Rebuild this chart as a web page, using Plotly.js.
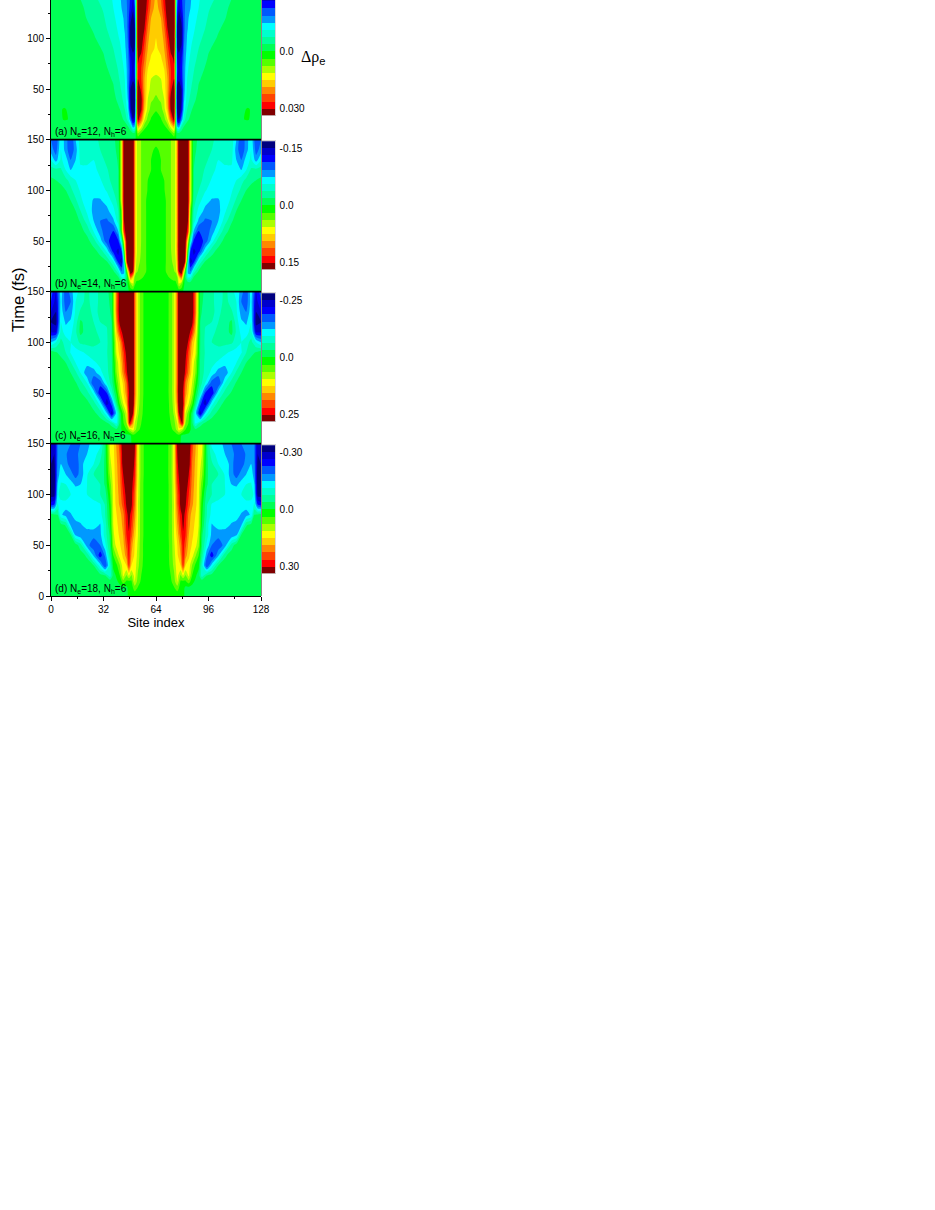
<!DOCTYPE html>
<html><head><meta charset="utf-8">
<script src="https://cdn.plot.ly/plotly-3.0.1.min.js"></script>
<style>html,body{margin:0;padding:0;background:#fff}</style></head>
<body><div id="chart" style="width:935px;height:1210px"></div>
<script>
// Colour of each contour band, top of the colour bar (most negative) to bottom.
const bandColors=['#00007f','#0000cc','#0000ff','#0059ff','#0099ff','#00ffff','#00ffcc','#00ff99','#00ff55','#00ff00','#55ff00','#aaff00','#ffff00','#ffcc00','#ff8800','#ff4400','#ff0000','#800000'];
const panelLabels=['(a) N<sub>e</sub>=12, N<sub>h</sub>=6','(b) N<sub>e</sub>=14, N<sub>h</sub>=6','(c) N<sub>e</sub>=16, N<sub>h</sub>=6','(d) N<sub>e</sub>=18, N<sub>h</sub>=6'];
const bandStep=[0.00375,0.01875,0.03125,0.0375];      // Δρ per colour band
const barTicks=[[0,0.03],[-0.15,0,0.15],[-0.25,0,0.25],[-0.30,0,0.30]];
const barTickText=[['0.0','0.030'],['-0.15','0.0','0.15'],['-0.25','0.0','0.25'],['-0.30','0.0','0.30']];
const siteTicks=[0,32,64,96,128], siteMinor=[16,48,80,112];
const timeTicks=[0,50,100,150], timeMinor=[25,75,125];

// Left half of each panel in units of one colour band; each panel is mirror symmetric about site 64.
const sitesA=[0,8,14,20,26,32,38,42,45,47,48.5,50,51,52,53,55,57,59,61,64];
const timesA=[0,6,12,20,30,40,50,60,70,80,90,100,110,120,130,140];
const bandsA=[
[-.3,-.3,-.3,-.3,-.3,-.3,-.3,-.3,-.3,-.3,-.3,-.3,-.3,.2,.3,.3,.3,.3,.3,.3],
[-.3,-.3,-.3,-.3,-.3,-.3,-.3,-.3,-.3,-.4,-.5,-.7,-.6,.3,1.8,.8,.5,.4,.4,.4],
[-.3,-.3,-.3,-.3,-.3,-.3,-.3,-.3,-.5,-.8,-1.6,-4,-3.5,.3,4.5,3,1.2,.7,.5,.5],
[-.3,.03,-.05,-.3,-.3,-.3,-.4,-.6,-1.2,-2.5,-5,-8,-7,-.5,8.5,6,3,1.6,.9,.6],
[-.3,.05,-.2,-.3,-.3,-.3,-.5,-1,-2,-3.6,-7.5,-9.5,-8.5,-1,9.5,8.2,4.5,2.6,1.6,1.1],
[-.3,-.3,-.3,-.3,-.3,-.4,-.7,-1.4,-2.5,-4.2,-8,-10,-9.3,-1,10,8.5,5,3,2.2,1.8],
[-.3,-.3,-.3,-.3,-.3,-.5,-.9,-1.8,-2.8,-4.5,-8,-9.6,-8.8,-1,9.5,7.5,5,3.4,2.7,2.3],
[-.3,-.3,-.3,-.3,-.3,-.6,-1.1,-2.1,-3,-4.6,-6.8,-7.6,-7,-.8,8,7,5,3.6,3,2.8],
[-.3,-.3,-.3,-.3,-.4,-.7,-1.4,-2.3,-3.2,-4.6,-6.5,-7.5,-6.5,-.8,7.8,7,5.4,4,3.5,3.3],
[-.3,-.3,-.3,-.3,-.5,-.9,-1.7,-2.6,-3.4,-4.8,-6.8,-7.6,-7,-.8,8.2,7.5,6,4.4,3.9,3.7],
[-.3,-.3,-.3,-.4,-.7,-1.1,-2,-2.8,-3.7,-5,-7.8,-8.3,-8,-.8,9.2,8.4,6.5,5,4.2,3.9],
[-.3,-.3,-.3,-.5,-.9,-1.4,-2.3,-3.1,-3.9,-5.2,-8.5,-9.8,-8.6,-.8,9.8,9,7.2,5.3,4.4,4],
[-.3,-.3,-.4,-.7,-1.1,-1.7,-2.6,-3.3,-4.1,-5.3,-8.5,-9.8,-8.4,-.8,10,9.6,8,5.9,4.6,4.1],
[-.3,-.3,-.5,-.9,-1.3,-1.9,-2.8,-3.5,-4.2,-5.3,-7.5,-8.8,-7.2,-.8,10,10,8.6,6.5,5,4.3],
[-.3,-.3,-.6,-1,-1.5,-2.1,-3,-3.8,-4.4,-5.3,-6.5,-7.6,-6,-.8,10,10.5,9,7.2,5.6,4.5],
[-.3,-.4,-.7,-1.2,-1.8,-2.4,-3.1,-3.9,-4.5,-5.4,-6.2,-7,-5,-.8,10,10.5,9.2,7.6,6,4.7]];

const sitesB=[0,3,6,9,12,15,18,22,26,30,34,38,41,43,44.5,46.5,48.5,50,51,52,53.5,56,58,61,64];
const timesB=[0,8,14,20,30,40,50,60,70,80,90,100,110,120,130,140,150];
const bandsB=[
[-.3,-.3,-.3,-.3,-.3,-.3,-.3,-.3,-.3,-.3,-.3,-.3,-.3,-.3,-.3,-.3,.3,.3,.3,.3,.3,.3,.3,.3,.3],
[-.3,-.3,-.3,-.3,-.3,-.3,-.3,-.3,-.3,-.3,-.3,-.3,-.3,-.3,-.3,-.2,2,3,1.2,.8,.7,.6,.5,.4,.4],
[-.3,-.3,-.3,-.3,-.3,-.3,-.3,-.3,-.3,-.3,-.3,-.4,-.8,-2.8,-3,-.3,6,4,2,1.3,1.3,1,.7,.5,.5],
[-.3,-.3,-.3,-.3,-.3,-.3,-.3,-.3,-.3,-.3,-.4,-.8,-2.5,-5,-4.5,2,9.5,8,4,2.2,1.8,1.3,1,.5,.5],
[-.3,-.3,-.3,-.3,-.3,-.3,-.3,-.3,-.4,-.6,-1,-3,-6.5,-7.6,-3,9,11,9,5,3,2.2,1.5,1,.5,.5],
[-.3,-.3,-.3,-.3,-.3,-.3,-.3,-.4,-.7,-1.3,-3.2,-6.5,-7.3,-6,0,10,11,9.3,5.5,3.2,2.4,1.6,1,.5,.5],
[-.3,-.3,-.3,-.3,-.3,-.3,-.4,-.7,-1.5,-3.5,-5.7,-6.6,-6.2,-2.5,3,10,11,9.3,5.5,3.2,2.4,1.7,1,.5,.5],
[-.3,-.3,-.3,-.3,-.3,-.4,-.7,-1.3,-3.1,-4.6,-5.8,-6,-4,1,7,10,11,9.3,5.5,3.2,2.4,1.7,1,.5,.5],
[-.3,-.3,-.3,-.3,-.4,-.7,-1.1,-2.5,-4,-5,-5.2,-4.2,-2.5,1,8,10,11,9.3,5.5,3.2,2.4,1.7,1,.5,.5],
[-.3,-.3,-.3,-.4,-.7,-1,-2,-3.2,-4.3,-4.6,-4.3,-3.3,-2,1.5,8.5,10,11,9.3,5.5,3.2,2.4,1.7,1,.5,.5],
[-.3,-.3,-.4,-.7,-1,-1.8,-2.8,-3.5,-4.1,-4.1,-3.6,-2.6,-1.6,3,8.8,10,11,9.3,5.5,3.2,2.4,1.7,1,.5,.5],
[-.3,-.5,-.7,-1,-1.7,-2.6,-3.1,-3.4,-3.6,-3.5,-2.9,-2,-1.2,3,8.8,10,11,9.3,5.5,3.2,2.4,1.7,1.1,.7,.5],
[-.8,-1,-1.2,-1.7,-2.4,-3,-3.3,-3.5,-3.5,-3.1,-2.4,-1.6,-1,3,9,10,11,9.3,5.5,3.2,2.4,1.7,1.1,.8,.6],
[-1.5,-1.6,-1.8,-3,-4,-3.3,-3.2,-3.5,-3.3,-2.7,-2.1,-1.5,-1,3,9,10,11,9.3,5.5,3.2,2.4,1.7,1.2,1,.7],
[-3,-4.5,-2.8,-3.5,-5,-4,-2.8,-2.5,-3,-2.3,-1.8,-1.4,-.9,3,9,10,11,9.3,5.5,3.2,2.4,1.7,1.3,1,.8],
[-4.5,-5.5,-3,-4.5,-5.8,-4.5,-2.5,-2.7,-2.4,-2,-1.6,-1.2,-.8,3,9,10,11,9.3,5.5,3.2,2.4,1.7,1.3,1.1,.9],
[-5,-6,-3.2,-4.5,-6,-4,-2.4,-3,-2.2,-1.9,-1.5,-1.1,-.8,3,9,10,11,9.3,5.5,3.2,2.4,1.7,1.3,1.2,1.2]];

const sitesC=[0,3,6,9,12,15,18,22,26,30,34,37,40,42,44,46,48,50,51,53,55,58,61,64];
const timesC=timesB;
const bandsC=[
[-.3,-.3,-.3,-.3,-.3,-.3,-.3,-.3,-.3,-.3,-.3,-.3,-.3,-.3,-.3,-.3,-.3,.3,.3,.3,.3,.3,.3,.3],
[-.3,-.3,-.3,-.3,-.3,-.3,-.3,-.3,-.3,-.3,-.3,-.3,-.3,-.3,-.3,-.3,-.3,.6,.6,.5,.4,.4,.4,.4],
[-.3,-.3,-.3,-.3,-.3,-.3,-.3,-.3,-.3,-.3,-.3,-.4,-.8,-.4,.5,1,2.5,3.5,2.5,1.2,.8,.5,.5,.5],
[-.3,-.3,-.3,-.3,-.3,-.3,-.3,-.3,-.3,-.4,-.7,-1.5,-3,-.6,.8,2,8,5,3,1.6,1,.5,.5,.5],
[-.3,-.3,-.3,-.3,-.3,-.3,-.3,-.4,-.7,-1.5,-3.8,-7.5,-3.5,-.5,1.3,3,8.8,8,4.5,2.2,1.2,.5,.5,.5],
[-.3,-.3,-.3,-.3,-.3,-.3,-.4,-.7,-1.6,-3.5,-7.8,-5.5,-1,1.3,3,4.5,9.5,9.5,5.5,2.6,1.3,.5,.5,.5],
[-.3,-.3,-.3,-.3,-.3,-.5,-.9,-1.6,-3.3,-7,-6,-2.5,.2,2.5,3.8,5.5,8.7,10,6,2.8,1.4,.5,.5,.5],
[-.3,-.3,-.3,-.3,-.5,-.9,-1.6,-3,-6,-5.5,-3,-1.5,1.2,3,4.2,6,9.5,10,6,2.8,1.4,.5,.5,.5],
[-.3,-.3,-.3,-.5,-1,-1.8,-3,-4.8,-4.5,-3.3,-2.3,-1.3,2,3.5,5.5,7.5,10,10,6,2.8,1.4,.5,.5,.5],
[-.3,-.4,-.6,-1,-1.9,-3,-3.7,-3.6,-3.2,-2.7,-2.2,-1.2,2.4,3.8,6,8,11,10,6,2.8,1.4,.5,.5,.5],
[-.5,-.9,-1.3,-2,-3.1,-3.4,-3.2,-2.8,-2.3,-2,-2.1,-1.1,3.2,4.4,6.5,8.5,11,10,6,2.8,1.4,.5,.5,.5],
[-4,-3,-1.7,-2.4,-3,-2.5,-1.8,-1.7,-1.8,-2,-2.2,-1,3.5,5,7.5,9.5,11,10,6,2.8,1.4,.5,.5,.5],
[-7,-7,-2.5,-3.5,-3.3,-2.2,-.7,-1.5,-1.9,-2.1,-2.1,-1,4.5,7,8.6,10,11,10,6,2.8,1.4,.5,.5,.5],
[-8,-8.5,-3,-4.2,-3.8,-2.5,-.8,-1.5,-2,-2,-1.9,-1,5.5,8.5,9.8,11,11,10,6,2.8,1.4,.5,.5,.5],
[-7,-8,-3.4,-5,-4.5,-2.8,-1.8,-1.5,-2.3,-1.8,-1.5,-.8,6,9,10.5,11,11,10,6,2.8,1.4,.5,.5,.5],
[-6,-7.5,-3.6,-5.6,-5,-3,-2.5,-1.5,-2.8,-1.6,-1.3,-.7,6,9,11,11,11,10,6,2.8,1.4,.5,.5,.5],
[-5.5,-7,-3.3,-5.8,-4.5,-3.2,-2.8,-1.5,-3,-1.5,-1.2,-.6,6,9,11,11,11,10,6,2.8,1.4,.5,.5,.5]];

const sitesD=[0,2,4,6,9,12,15,18,22,26,30,33,36,38,40,42,44,46,47.5,49,51,53,55,58,64];
const timesD=timesB;
const bandsD=[
[-.3,-.3,-.3,-.3,-.3,-.3,-.3,-.3,-.3,-.3,-.3,-.3,-.3,-.3,-.3,-.3,-.3,-.3,.3,.3,.3,.3,.3,.3,.3],
[-.3,-.3,-.3,-.3,-.3,-.3,-.3,-.3,-.3,-.3,-.3,-.3,-.3,-.3,-.3,-.3,-.3,-.3,.4,.5,1.5,.9,.6,.5,.5],
[-.3,-.3,-.3,-.3,-.3,-.3,-.3,-.3,-.3,-.3,-.3,-.3,-.3,-.3,-.2,.3,1.5,.8,.6,.8,3,1.5,.8,.5,.5],
[-.3,-.3,-.3,-.3,-.3,-.3,-.3,-.3,-.3,-.3,-.5,-.9,-2.5,-.5,.2,1,3.2,1.8,3,1.8,3.4,1.8,1,.5,.5],
[-.3,-.3,-.3,-.3,-.3,-.3,-.3,-.3,-.5,-1,-3.5,-6,-2.5,.3,.8,2,3.6,4,7,4,3.6,2.3,1.2,.5,.5],
[-.3,-.3,-.3,-.3,-.3,-.3,-.3,-.5,-1.2,-4.2,-6.6,-4.8,-1.5,1,2.2,3.4,4.2,5.5,7.5,5,3.8,2.6,1.3,.5,.5],
[-.3,-.3,-.3,-.3,-.3,-.3,-.5,-1.5,-4.6,-5.7,-5,-3.3,-.9,2.2,3.4,3.9,4.6,6.3,7.6,5.5,4,2.8,1.3,.5,.5],
[-.3,-.3,-.3,-.3,-.5,-.9,-4.2,-4.8,-5,-4.7,-4.3,-2.5,-.8,2.8,3.6,4.2,5,7,7.8,6.5,4.4,3,1.4,.5,.5],
[-.3,-.3,-.4,-.6,-1.1,-4.2,-4.6,-4.2,-3.3,-3.5,-4.1,-2.5,0,3,3.8,4.4,5.3,7.3,8.3,7,5,3,1.4,.5,.5],
[-.5,-.8,-1,-3.8,-4.5,-4.2,-3.2,-3.1,-3.1,-3.3,-3.4,-2,.2,3.1,4,4.6,5.6,7.6,8.5,7.5,5.5,3.1,1.4,.5,.5],
[-6.5,-6,-2.8,-3.8,-3.5,-3.1,-3,-3.1,-3.3,-3.4,-3.1,-1.9,.5,3.2,4.4,5.2,6.5,8.2,9,8.4,6,3,1.4,.5,.5],
[-8.5,-8.5,-3.5,-2,-2.3,-3,-3.3,-3.2,-3,-2.5,-2,-1.5,1,3.3,4.5,5.4,7,8.5,9.3,8.5,6.2,3.2,1.4,.5,.5],
[-9,-9,-4,-2.9,-3,-3.6,-4.2,-4,-3,-2.3,-2,-.8,1.5,3.4,4.6,5.6,7.5,9,10,8.7,6.8,3.3,1.4,.5,.5],
[-8.5,-9,-4.5,-3.5,-4,-4.6,-5.5,-4.6,-3.1,-2,-1.7,-.8,2.2,3.5,4.7,5.8,8,9.5,10.5,9.3,7.2,3.5,1.5,.5,.5],
[-8,-8.5,-4.8,-4,-4.6,-5.5,-6,-4.4,-3.4,-3,-1.8,-.8,2.7,3.6,4.8,6,8.8,10,11,10,7.6,3.5,1.5,.5,.5],
[-7.5,-8,-5,-4,-4.8,-5.8,-5.5,-4.5,-4,-3.5,-2.5,-.8,3,3.7,5,6.2,9,11,11,10.5,8,3.5,1.5,.5,.5],
[-7,-8,-5,-4,-4.5,-5,-5,-5,-4.5,-3.2,-3.3,-.8,3.3,3.8,5.2,6.5,9.5,11,11,11,8.5,3.5,1.5,.5,.5]];

const allSites=[sitesA,sitesB,sitesC,sitesD], allTimes=[timesA,timesB,timesC,timesD], allBands=[bandsA,bandsB,bandsC,bandsD];

// page geometry in pixels
const W=935,H=1210,plotL=51,plotR=261,barL=262,barR=275;
const plotTop=[0,139.7,291.7,443.7], plotBot=[139.7,291.7,443.7,596];
const barTop=[0,141.2,293.2,445.2], barBot=[115.5,269.5,421.5,573.5];
const pxBand=7.14;
const fx=p=>p/W, fy=p=>1-p/H;

const n=bandColors.length;
const colorscale=[];
bandColors.forEach((c,k)=>{colorscale.push([k/n,c]);colorscale.push([(k+1)/n,c]);});

const traces=[];
const layout={width:W,height:H,autosize:false,margin:{l:0,r:0,t:0,b:0},paper_bgcolor:'#fff',plot_bgcolor:'#fff',
  font:{family:'"Liberation Sans",Arial,sans-serif',size:10,color:'#000'},showlegend:false,annotations:[],
  shapes:[{type:'line',xref:'paper',yref:'paper',x0:fx(261.5),x1:fx(261.5),y0:fy(0),y1:fy(596),line:{color:'#888',width:1}}]};

for(let p=0;p<4;p++){
  const s=bandStep[p], half=n/2*s;
  const xs=allSites[p].concat(allSites[p].slice(0,-1).reverse().map(v=>128-v));
  const zs=allBands[p].map(r=>{
    if(r.length!==allSites[p].length) throw new Error('row length panel '+p);
    return r.concat(r.slice(0,-1).reverse()).map(v=>v*s);});
  const xa=p+1, ya=p+1;
  traces.push({type:'contour',x:xs,y:allTimes[p],z:zs,xaxis:'x'+xa,yaxis:'y'+ya,zmin:-half,zmax:half,zauto:false,
    colorscale,showscale:false,autocontour:false,hoverinfo:'skip',
    contours:{coloring:'fill',showlines:false,start:-half,end:half,size:s},line:{width:0,smoothing:0.6}});
  const last=p===3;
  layout['xaxis'+xa]={domain:[fx(plotL),fx(plotR)],range:[0,128],anchor:'y'+ya,showgrid:false,zeroline:false,
    showline:last,linecolor:'#000',linewidth:1,ticks:last?'outside':'',ticklen:4,tickcolor:'#000',tickwidth:1,
    tickvals:last?siteTicks:[],ticktext:last?siteTicks.map(String):[],tickfont:{size:10},
    minor:last?{tickvals:siteMinor,ticks:'outside',ticklen:2,tickcolor:'#000',tickwidth:1}:undefined,
    title:last?{text:'Site index',font:{size:13},standoff:3}:undefined};
  if(!last) layout.shapes.push({type:'line',xref:'paper',yref:'paper',x0:fx(plotL-0.5),x1:fx(plotR),y0:fy(plotBot[p]),y1:fy(plotBot[p]),line:{color:'#000',width:1.8}});
  const yTop=p===0?(plotBot[0])/ (152/150):150;
  const yVals=timeTicks.filter(t=>(p===3||t>0)&&t<=yTop);
  layout['yaxis'+ya]={domain:[fy(plotBot[p]),fy(plotTop[p])],range:[0,yTop],anchor:'x'+xa,showgrid:false,zeroline:false,
    showline:true,linecolor:'#000',linewidth:1,ticks:'outside',ticklen:4,tickcolor:'#000',tickwidth:1,
    tickvals:yVals,ticktext:yVals.map(String),tickfont:{size:10},
    minor:{tickvals:timeMinor,ticks:'outside',ticklen:2,tickcolor:'#000',tickwidth:1}};

  // colour bar: its own small heatmap, negative at the top as in the figure
  const xb=p+5, yb=p+5;
  const centres=bandColors.map((c,k)=>(k+0.5-n/2)*s);
  traces.push({type:'heatmap',x:[0],y:centres,z:centres.map(v=>[v]),xaxis:'x'+xb,yaxis:'y'+yb,zmin:-half,zmax:half,zauto:false,
    colorscale,showscale:false,hoverinfo:'skip'});
  layout['xaxis'+xb]={domain:[fx(barL),fx(barR)],anchor:'y'+yb,visible:true,showticklabels:false,ticks:'',showgrid:false,zeroline:false,
    showline:true,mirror:true,linecolor:'#bbb',linewidth:0.6,range:[-0.5,0.5]};
  const visibleBands=(barBot[p]-barTop[p])/pxBand;
  layout['yaxis'+yb]={domain:[fy(barBot[p]),fy(barTop[p])],anchor:'x'+xb,side:'right',range:[half,half-visibleBands*s],
    showgrid:false,zeroline:false,showline:true,mirror:true,linecolor:'#bbb',linewidth:0.6,
    ticks:'outside',ticklen:2,tickcolor:'rgba(0,0,0,0)',tickvals:barTicks[p],ticktext:barTickText[p],tickfont:{size:10}};

  layout.annotations.push({xref:'paper',yref:'paper',x:fx(53.5),y:fy(plotBot[p]-7.5),xanchor:'left',yanchor:'middle',
    text:panelLabels[p],showarrow:false,font:{size:10},borderpad:0});
}
layout.annotations.push({xref:'paper',yref:'paper',x:fx(18),y:fy(300),xanchor:'center',yanchor:'middle',textangle:-90,
  text:'Time (fs)',showarrow:false,font:{size:16.5}});
layout.annotations.push({xref:'paper',yref:'paper',x:fx(298.5),y:fy(57),xanchor:'left',yanchor:'middle',
  text:'<span style="font-family:Liberation Serif">Δρ</span><sub>e</sub>',showarrow:false,font:{size:16}});

Plotly.newPlot('chart',traces,layout,{displayModeBar:false,staticPlot:true});
</script></body></html>
